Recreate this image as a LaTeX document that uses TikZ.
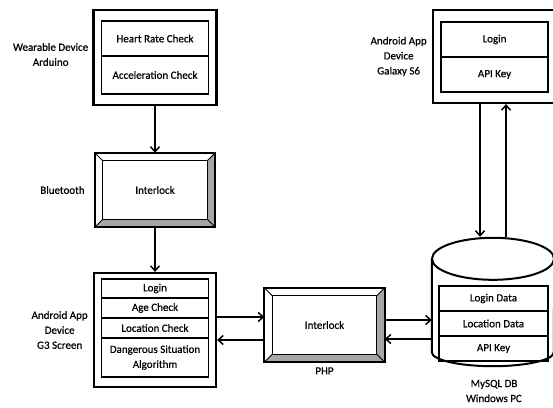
\documentclass[tikz,border=0pt]{standalone}
\usepackage{fontspec}
\setmainfont{Carlito}[FakeBold=0.6]
\usetikzlibrary{positioning,arrows.meta,shapes.geometric}

\begin{document}
\begin{tikzpicture}
[x=1pt,y=-1pt,
 every node/.style={font=\fontsize{11}{15}\selectfont},
 frame/.style={rectangle,draw,line width=2.2pt,inner sep=0pt},
 cell/.style={rectangle,draw,line width=1.6pt,inner sep=0pt,outer sep=0pt,minimum width=107pt},
 bevel/.style={rectangle,inner sep=0pt,minimum width=120pt,minimum height=74pt},
 devname/.style={align=center,inner sep=1pt},
 arr/.style={line width=1.5pt,-{Straight Barb[length=5pt,width=9pt,line width=1.5pt]}}]
\useasboundingbox (0,0) rectangle (553,407);
% wearable device
\node[frame,minimum width=123pt,minimum height=95pt] (wear) at (155,57.5) {};
\node[cell,minimum height=35pt] (heart) at (155,38.5) {Heart Rate Check};
\node[cell,minimum height=38pt,below=0pt of heart] (accel) {Acceleration Check};
\node[devname,left=3pt of wear,yshift=3pt] (wearname) {Wearable Device\\Arduino};
% bluetooth
\node[bevel] (bt) at (155,190) {Interlock};
\node[devname,left=9pt of bt] (btname) {Bluetooth};
% phone G3
\node[frame,minimum width=122pt,minimum height=114pt] (g3) at (155,330) {};
\node[cell,minimum height=19pt] (login1) at (155,288.5) {Login};
\node[cell,minimum height=20pt,below=0pt of login1] (age) {Age Check};
\node[cell,minimum height=20pt,below=0pt of age] (loc) {Location Check};
\node[cell,minimum height=39pt,below=0pt of loc,align=center] (danger) {Dangerous Situation\\Algorithm};
\node[devname,left=4pt of g3] (g3name) {Android App\\Device\\G3 Screen};
% server
\node[bevel] (php) at (324.5,325) {Interlock};
\node[devname,below=4pt of php] (phpname) {PHP};
% phone S6
\node[frame,minimum width=122pt,minimum height=93pt] (gal) at (494,56.5) {};
\node[cell,minimum height=35pt] (login2) at (494.5,39.5) {Login};
\node[cell,minimum height=35pt,below=0pt of login2] (apikey1) {API Key};
\node[devname,left=4pt of gal] (galname) {Android App\\Device\\Galaxy S6};
% database
\node[inner sep=0pt,minimum width=122pt,minimum height=93pt] (db) at (493,305.5) {};
\draw[line width=2pt] (db.north west) -- (db.south west)
  arc[start angle=180,end angle=360,x radius=61pt,y radius=14pt] -- (db.north east);
\node[draw,ellipse,line width=2pt,inner sep=0pt,minimum width=122pt,minimum height=42pt] (dbtop) at (db.north) {};
\node[cell,minimum width=109pt,minimum height=25pt] (ldata) at (493.5,298.5) {Login Data};
\node[cell,minimum width=109pt,minimum height=25pt,below=0pt of ldata] (locdata) {Location Data};
\node[cell,minimum width=109pt,minimum height=25pt,below=0pt of locdata] (apikey2) {API Key};
\node[devname] (dbname) at (494,391) {MySQL DB\\Windows PC};
% bevelled frames
\foreach \b in {bt,php} {
  \fill[black!35] (\b.north east) -- (\b.south east) -- (\b.south west)
    -- ([shift={(8pt,8pt)}]\b.south west) -- ([shift={(-8pt,8pt)}]\b.south east)
    -- ([shift={(-8pt,-8pt)}]\b.north east) -- cycle;
  \draw[line width=1pt] ([shift={(8pt,-8pt)}]\b.north west) rectangle ([shift={(-8pt,8pt)}]\b.south east);
  \draw[line width=1pt] (\b.north west) -- ++(8pt,-8pt)
                        (\b.north east) -- ++(-8pt,-8pt)
                        (\b.south west) -- ++(8pt,8pt)
                        (\b.south east) -- ++(-8pt,8pt);
  \draw[line width=2.2pt] (\b.north west) rectangle (\b.south east);
}
% connectors
\draw[arr] (wear.south) -- (bt.north);
\draw[arr] (bt.south) -- (g3.north);
\draw[arr] ([yshift=13pt]g3.east) -- ([yshift=8pt]php.west);
\draw[arr] ([yshift=-15pt]php.west) -- ([yshift=-10pt]g3.east);
\draw[arr] ([yshift=5pt]php.east) -- ([yshift=-14.5pt]db.west);
\draw[arr] ([yshift=-33.5pt]db.west) -- ([yshift=-14pt]php.east);
\draw[arr] ([xshift=-14pt]gal.south) -- ([xshift=-14pt]gal.south |- dbtop.north);
\draw[arr] ([xshift=12pt]gal.south |- dbtop.north) -- ([xshift=12pt]gal.south);
\end{tikzpicture}
\end{document}
